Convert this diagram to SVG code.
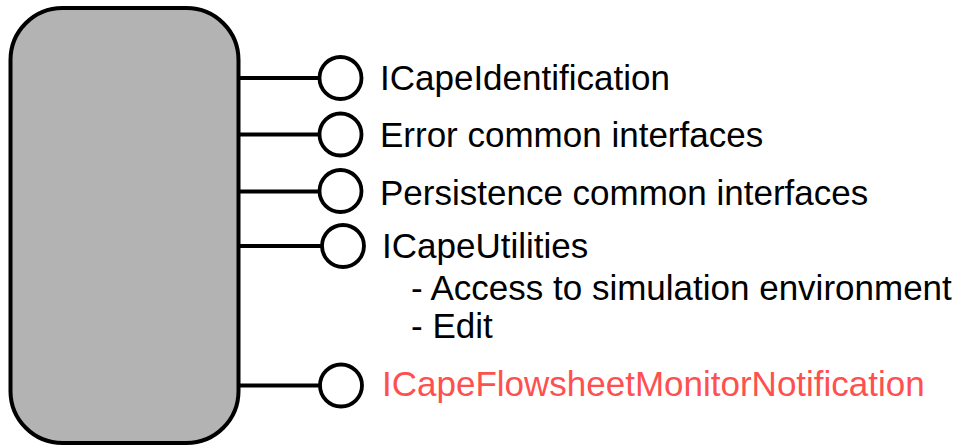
<svg xmlns="http://www.w3.org/2000/svg" width="961" height="448" viewBox="0 0 961 448">
<style>
.box{fill:#b3b3b3;stroke:#000;stroke-width:4}
.lol{fill:#fff;stroke:#000;stroke-width:3.8}
.wire{stroke:#000;stroke-width:3.8;fill:none}
text{font-family:"Liberation Sans",Arial,sans-serif;font-size:35px;fill:#000}
.red{fill:#ff5050}
</style>
<rect width="961" height="448" fill="#fff"/>
<g id="component">
<rect class="box" x="10.5" y="8" width="228" height="435" rx="52" ry="52"/>
</g>
<g id="connectors">
<line class="wire" x1="238" y1="78" x2="320" y2="78"/>
<line class="wire" x1="238" y1="134.5" x2="320" y2="134.5"/>
<line class="wire" x1="238" y1="191.5" x2="320" y2="191.5"/>
<line class="wire" x1="238" y1="246" x2="322" y2="246"/>
<line class="wire" x1="238" y1="385.5" x2="320" y2="385.5"/>
</g>
<g id="iface-identification">
<circle class="lol" cx="340.5" cy="78" r="21"/>
<text x="380" y="90">ICapeIdentification</text>
</g>
<g id="iface-error">
<circle class="lol" cx="340.5" cy="134.5" r="21"/>
<text x="380" y="147">Error common interfaces</text>
</g>
<g id="iface-persistence">
<circle class="lol" cx="340.5" cy="191" r="21"/>
<text x="380" y="205">Persistence common interfaces</text>
</g>
<g id="iface-utilities">
<circle class="lol" cx="343" cy="246" r="21"/>
<text x="382" y="258">ICapeUtilities</text>
<text x="411" y="300">- Access to simulation environment</text>
<text x="411" y="338">- Edit</text>
</g>
<g id="iface-monitor">
<circle class="lol" cx="341" cy="385.5" r="21"/>
<text class="red" x="382" y="396">ICapeFlowsheetMonitorNotification</text>
</g>
</svg>
